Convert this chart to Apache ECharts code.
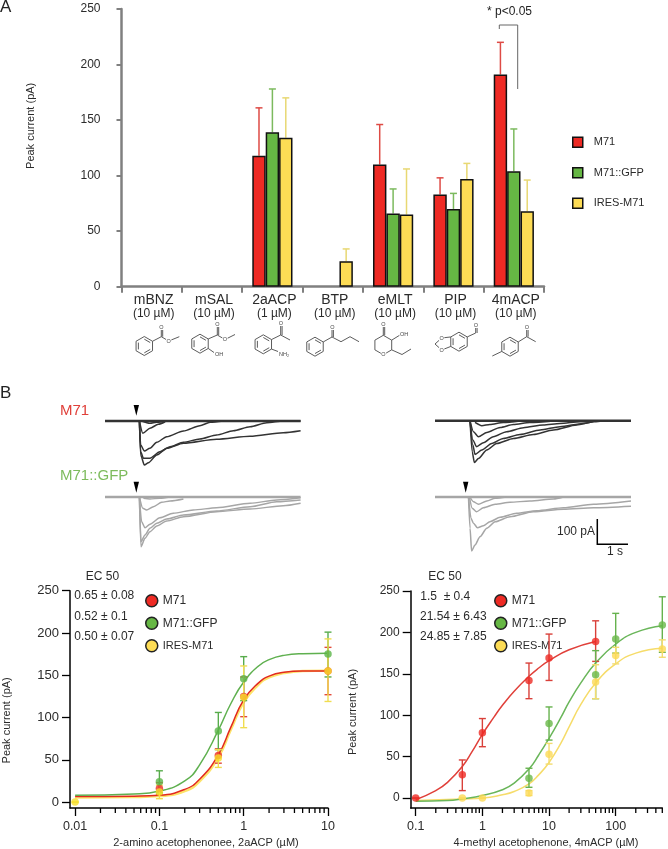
<!DOCTYPE html>
<html><head><meta charset="utf-8">
<style>html,body{margin:0;padding:0;background:#fff}#c{width:668px;height:849px}</style>
<script src="https://cdn.jsdelivr.net/npm/echarts@6/dist/echarts.min.js"></script>
</head><body><div id="c"></div>
<script>
// ---- Panel A data
const odorants = ['mBNZ','mSAL','2aACP','BTP','eMLT','PIP','4mACP'];
const odorantDose = ['(10 µM)','(10 µM)','(1 µM)','(10 µM)','(10 µM)','(10 µM)','(10 µM)'];
const barM71   = [null,null,118,null,110,83,191];
const barGFP   = [null,null,139,null,66,70,104];
const barIRES  = [null,null,134,23,65,97,68];
const topM71   = [null,null,161,null,146,98,220];
const topGFP   = [null,null,178,null,88,84,142];
const topIRES  = [null,null,170,34,106,111,96];

// ---- Panel B dose-response data: [dose, mean, low, high]
const ptsL_M71  = [[0.1,16,9,23],[0.5,55,46,63],[1,125,101,148],[10,155,127,183]];
const ptsL_GFP  = [[0.1,24,11,37],[0.5,84,62,106],[1,146,120,172],[10,175,148,201]];
const ptsL_IRES = [[0.01,0,0,0],[0.1,12,4,20],[0.5,52,41,62],[1,124,88,161],[10,155,119,193]];
const fitL_M71  = [[0.01,6.5],[0.05,7],[0.1,8],[0.2,15],[0.3,27],[0.5,56],[0.7,88],[1,121],[1.5,141],[2,149],[3,153.5],[5,155],[10,155]];
const fitL_GFP  = [[0.01,8],[0.05,9.5],[0.1,13],[0.2,25],[0.3,44],[0.5,85],[0.7,116],[1,142],[1.5,161],[2,168.5],[3,173.5],[5,175.5],[10,176]];
const fitL_IRES = [[0.01,5.5],[0.05,6],[0.1,7],[0.2,13],[0.3,24.5],[0.5,53],[0.7,85],[1,118],[1.5,139],[2,147.5],[3,152.5],[5,155],[10,155.5]];
const ptsR_M71  = [[0.1,0,0,0],[0.5,28,9,46],[1,79,62,96],[5,142,120,163],[10,169,142,198],[50,189,165,214]];
const ptsR_GFP  = [[5,24,13,36],[10,90,70,110],[50,149,120,178],[100,192,175,223],[500,209,176,243]];
const ptsR_IRES = [[0.5,0,0,0],[1,0,0,0],[5,6,3,9],[10,53,41,66],[50,140,120,161],[100,172,162,182],[500,180,170,191]];
const fitR_M71  = [[0.1,-2],[0.2,9],[0.3,19],[0.5,38],[0.7,56],[1,77],[1.5,98],[2,112],[3,129],[5,147],[7,157],[10,166],[20,179],[50,189]];
const fitR_GFP  = [[0.1,-4],[0.3,-3],[0.5,-1],[1,3],[2,10],[3,18],[5,35],[7,52],[10,72],[15,97],[20,116],[30,139],[50,163],[100,186],[200,200],[500,208]];
const fitR_IRES = [[0.1,-3],[0.5,-1],[1,0],[2,4],[3,8],[5,17],[7,28],[10,43],[15,66],[20,86],[30,113],[50,139],[100,162],[200,175],[500,181]];
const yTicksB = [0,50,100,150,200,250];
const doseTicksL = [0.01,0.1,1,10];
const doseMinorL = [0.02,0.03,0.04,0.05,0.06,0.07,0.08,0.09,0.2,0.3,0.4,0.5,0.6,0.7,0.8,0.9,2,3,4,5,6,7,8,9];
const doseTicksR = [0.1,1,10,100];
const doseMinorR = [0.2,0.3,0.4,0.5,0.6,0.7,0.8,0.9,2,3,4,5,6,7,8,9,20,30,40,50,60,70,80,90,200,300,400,500];

// ---- Panel B current traces: [seconds, pA]
const traceTL = [
 [[0,0],[6.31,0]],
 [[1.11,0],[1.15,-136],[1.27,-176],[1.40,-167],[1.67,-136],[1.99,-109],[2.53,-89],[3.60,-73],[4.68,-61],[5.75,-47],[6.31,-39]],
 [[1.11,0],[1.15,-123],[1.24,-149],[1.45,-149],[1.77,-123],[2.10,-103],[2.53,-85],[3.06,-72],[3.60,-56],[4.14,-39],[4.68,-23],[5.22,-7],[5.75,0],[6.31,0]],
 [[1.11,0],[1.15,-96],[1.27,-120],[1.45,-109],[1.67,-85],[1.99,-63],[2.53,-40],[3.06,-19],[3.39,-5],[3.82,0]],
 [[1.11,0],[1.22,-49],[1.45,-29],[1.72,-13],[1.94,-3]],
 [[1.18,0],[1.45,-9],[1.67,-5],[2,0]]
];
const traceTR = [
 [[0,0],[6.32,0]],
 [[1.13,0],[1.20,-124],[1.27,-167],[1.40,-151],[1.67,-117],[1.99,-91],[2.53,-71],[3.17,-55],[3.82,-37],[4.57,-17],[5.11,-4],[5.54,0],[6.32,0]],
 [[1.13,0],[1.22,-97],[1.29,-135],[1.51,-117],[1.83,-91],[2.20,-71],[2.74,-55],[3.39,-37],[4.03,-24],[4.78,-11],[5.22,-1],[6.32,0]],
 [[1.13,0],[1.22,-77],[1.34,-104],[1.56,-88],[1.88,-64],[2.31,-44],[2.85,-28],[3.49,-17],[4.03,-11],[4.68,-4],[5.32,0]],
 [[1.13,0],[1.24,-44],[1.40,-64],[1.67,-47],[2.10,-27],[2.53,-15],[3.06,-7],[3.82,-1]],
 [[1.29,-7],[1.51,-20],[1.77,-15],[2.20,-7],[2.74,-1]]
];
const traceBL = [
 [[0,0],[6.31,0]],
 [[1.11,0],[1.16,-199],[1.29,-165],[1.45,-139],[1.67,-116],[1.99,-96],[2.53,-79],[3.60,-59],[4.68,-48],[5.75,-35],[6.31,-25]],
 [[1.11,0],[1.18,-99],[1.29,-123],[1.45,-109],[1.77,-83],[2.20,-65],[2.85,-52],[3.60,-43],[4.68,-25],[5.54,-12],[6.31,-3]],
 [[1.11,0],[1.22,-45],[1.34,-52],[1.56,-39],[1.83,-21],[2.10,-16],[2.53,-8]],
 [[1.11,0],[1.16,-179],[1.29,-152],[1.45,-125],[1.67,-105],[1.99,-88],[2.53,-72],[3.60,-56],[4.68,-39],[5.54,-19],[6.31,-12]],
 [[1.24,-5],[1.45,-8],[1.77,-5],[2.1,0]]
];
const traceBR = [
 [[0,0],[6.32,0]],
 [[1.08,0],[1.13,-125],[1.18,-216],[1.29,-192],[1.45,-159],[1.67,-125],[1.94,-99],[2.42,-79],[3.17,-59],[4.14,-49],[5.11,-43],[6.32,-37]],
 [[1.08,0],[1.16,-85],[1.24,-105],[1.37,-123],[1.56,-115],[1.77,-99],[2.10,-81],[2.63,-65],[3.28,-55],[4.14,-43],[5.11,-29],[6.32,-16]],
 [[1.11,0],[1.20,-45],[1.34,-59],[1.56,-43],[1.94,-29],[2.42,-21],[3.06,-16],[3.82,-8],[4.14,0]],
 [[1.13,0],[1.24,-19],[1.40,-29],[1.67,-16],[1.94,-5],[2.31,0]]
];

// ---- Styles
const FONT = '"Liberation Sans",Arial,sans-serif';
const RED='#ee2a24', GREEN='#66b744', YEL='#fddc55';
const names=['M71','M71::GFP','IRES-M71'];
const TXT='#2b2b2b';

const grid=[], xAxis=[], yAxis=[], series=[], graphic=[];

// ---- Panel A
grid.push({left:121.5,width:422.5,top:9,height:277.7,outerBoundsMode:'none'});
xAxis.push({type:'category',gridIndex:0,data:odorants,
  axisLine:{show:true,lineStyle:{color:'#808080',width:2.5}},
  axisTick:{show:true,length:6,lineStyle:{color:'#808080',width:2}},
  axisLabel:{margin:6,interval:0,padding:[0,0,0,4],color:TXT,fontFamily:FONT,
    formatter:(v,i)=>'{a|'+v+'}\n{b|'+odorantDose[i]+'}',
    rich:{a:{fontSize:14,lineHeight:14,fontFamily:FONT,color:TXT},b:{fontSize:12,lineHeight:13,fontFamily:FONT,color:TXT}}}});
yAxis.push({type:'value',gridIndex:0,min:0,max:250,interval:50,name:'Peak current (pA)',nameLocation:'center',nameGap:85,
  nameTextStyle:{fontFamily:FONT,fontSize:11,color:TXT,padding:[0,0,0,44]},
  axisLine:{show:true,lineStyle:{color:'#808080',width:2.5}},
  axisTick:{show:true,length:5,lineStyle:{color:'#808080',width:2}},
  splitLine:{show:false},
  axisLabel:{margin:21,fontFamily:FONT,fontSize:12,color:TXT,padding:[3,0,0,0]}});
const barData=[barM71,barGFP,barIRES], topData=[topM71,topGFP,topIRES], cols=[RED,GREEN,YEL], errCols=['#de4b45','#7cba5e','#e8d873'];
const BW=13.4;
barData.forEach((d,k)=>{
  series.push({type:'bar',name:names[k],xAxisIndex:0,yAxisIndex:0,data:d,barGap:'0%',barCategoryGap:'33.4%',z:3,
    itemStyle:{color:cols[k],borderColor:'#111',borderWidth:1.5},silent:true});
});
barData.forEach((d,k)=>{
  series.push({type:'custom',xAxisIndex:0,yAxisIndex:0,clip:false,z:2,silent:true,
    data:d.map((v,i)=>v==null?null:[i,v,topData[k][i]]).filter(Boolean),
    encode:{x:0,y:[1,2]},
    renderItem:(p,api)=>{
      const a=api.coord([api.value(0),api.value(1)]), b=api.coord([api.value(0),api.value(2)]);
      const x=a[0]+(k-1)*BW, s={stroke:errCols[k],lineWidth:1.5};
      return {type:'group',children:[
        {type:'line',shape:{x1:x,y1:a[1],x2:x,y2:b[1]},style:s},
        {type:'line',shape:{x1:x-3.5,y1:b[1],x2:x+3.5,y2:b[1]},style:s}]};
    }});
});

// ---- Dose-response panels
function dosePanel(o){
  const gi=grid.length; grid.push({left:o.left,width:o.width,top:o.top,height:o.height,outerBoundsMode:'none'});
  const xi=xAxis.length;
  xAxis.push({type:'log',logBase:10,gridIndex:gi,min:o.min,max:o.max,position:'bottom',
    axisLine:{show:true,onZero:false,lineStyle:{color:'#000',width:1.5}},
    axisTick:{show:true,length:8,lineStyle:{color:'#000',width:1.3},customValues:o.major},
    axisLabel:{show:true,margin:12,color:TXT,fontFamily:FONT,fontSize:12.5,customValues:o.major,formatter:v=>String(+(+v).toPrecision(3))},
    splitLine:{show:false},minorTick:{show:false}});
  const yi=yAxis.length;
  yAxis.push({type:'value',gridIndex:gi,min:o.ymin,max:250,name:'Peak current (pA)',nameLocation:'center',nameGap:o.nameGap,
    nameTextStyle:{fontFamily:FONT,fontSize:11,color:TXT,padding:[0,o.namePad,0,0]},
    axisLine:{show:true,onZero:false,lineStyle:{color:'#000',width:1.5}},
    axisTick:{show:true,length:8,lineStyle:{color:'#000',width:1.3},customValues:yTicksB},
    axisLabel:{margin:11,fontFamily:FONT,fontSize:o.yFont,color:TXT,customValues:yTicksB},
    splitLine:{show:false}});
  // minor decade ticks on the log axis
  series.push({type:'custom',xAxisIndex:xi,yAxisIndex:yi,clip:false,silent:true,z:6,
    data:o.minor.map(v=>[v,o.ymin,o.ymin]),encode:{x:0,y:[1,2]},
    renderItem:(p,api)=>{const a=api.coord([api.value(0),api.value(1)]);
      return {type:'group',children:[{type:'line',shape:{x1:a[0],y1:a[1],x2:a[0],y2:a[1]+5},style:{stroke:'#000',lineWidth:1.3}}]};}});
  const fits=o.fits, pts=o.pts;
  [2,0,1].forEach((k,ord)=>{
    series.push({type:'line',name:names[k],xAxisIndex:xi,yAxisIndex:yi,data:fits[k],showSymbol:false,smooth:0.5,clip:false,silent:true,z:3+ord*0.01,
      lineStyle:{color:o.lineCols[k],width:o.lineW[k]}});
  });
  [0,1,2].forEach(k=>{
    series.push({type:'custom',xAxisIndex:xi,yAxisIndex:yi,clip:false,silent:true,z:4,
      data:pts[k].map(p=>[p[0],p[2],p[3]]),encode:{x:0,y:[1,2]},
      renderItem:(p,api)=>{
        const a=api.coord([api.value(0),api.value(1)]), b=api.coord([api.value(0),api.value(2)]);
        const s={stroke:o.errCols[k],lineWidth:1.4};
        return {type:'group',children:[
          {type:'line',shape:{x1:a[0],y1:a[1],x2:a[0],y2:b[1]},style:s},
          {type:'line',shape:{x1:a[0]-3.5,y1:a[1],x2:a[0]+3.5,y2:a[1]},style:s},
          {type:'line',shape:{x1:b[0]-3.5,y1:b[1],x2:b[0]+3.5,y2:b[1]},style:s}]};
      }});
  });
  [0,1,2].forEach(k=>{
    series.push({type:'scatter',name:names[k],xAxisIndex:xi,yAxisIndex:yi,data:pts[k].map(p=>[p[0],p[1]]),symbolSize:7.5,clip:false,silent:true,z:5,
      itemStyle:{color:o.ptCols[k]}});
  });
}
dosePanel({left:70,width:258,top:590.7,height:217.3,min:0.0087,max:10,ymin:-7,nameGap:58,namePad:42,yFont:13,
  major:doseTicksL,minor:doseMinorL,fits:[fitL_M71,fitL_GFP,fitL_IRES],pts:[ptsL_M71,ptsL_GFP,ptsL_IRES],lineW:[1.5,1.5,2.4],
  lineCols:['#e22a20','#5fb04f','#fde36a'],errCols:['#e24a3a','#58ac4c','#f0dd50'],ptCols:['#ee2a24','#5bb548','#f8e02a']});
dosePanel({left:410.7,width:251.6,top:591,height:217,min:0.0841,max:500,ymin:-12,nameGap:52.7,namePad:25,yFont:12,
  major:doseTicksR,minor:doseMinorR,fits:[fitR_M71,fitR_GFP,fitR_IRES],pts:[ptsR_M71,ptsR_GFP,ptsR_IRES],lineW:[1.5,1.5,1.5],
  lineCols:['#e0403a','#6ab65a','#f6dc6a'],errCols:['#d9403a','#66b24e','#f3dc70'],ptCols:['#ee2a24','#69b848','#fcd955']});
// free-standing text
function label(text,x,y,size,color,align){
  graphic.push({type:'text',silent:true,style:{text:text,x:x,y:y,fill:color||TXT,font:(size||12)+'px '+FONT,textAlign:align||'left',textVerticalAlign:'middle'}});
}
label('2-amino acetophenonee, 2aACP (µM)',206,843,11,TXT,'center');
label('4-methyl acetophenone, 4mACP (µM)',546,843,11,TXT,'center');
label('EC 50',85.7,577,12);
label('0.65 ± 0.08',74.3,595.5,12);
label('0.52 ± 0.1',74.3,617,12);
label('0.50 ± 0.07',74.3,636.5,12);
label('EC 50',428.3,577,12);
label('1.5  ± 0.4',420.3,596.5,12);
label('21.54 ± 6.43',420,617,12);
label('24.85 ± 7.85',420,637,12);

// ---- Traces
function tracePanel(tr,left,width,baseY,col,tmax){
  const gi=grid.length; grid.push({left:left,width:width,top:baseY-10,height:70,outerBoundsMode:'none'});
  const xi=xAxis.length, yi=yAxis.length;
  xAxis.push({type:'value',gridIndex:gi,min:0,max:tmax,show:false});
  yAxis.push({type:'value',gridIndex:gi,min:-240,max:40,show:false});
  tr.forEach((d,i)=>series.push({type:'line',xAxisIndex:xi,yAxisIndex:yi,data:d,showSymbol:false,smooth:i?0.25:false,smoothMonotone:'x',clip:false,silent:true,z:2,
    lineStyle:{color:col,width:i?1.5:2.6}}));
}
tracePanel(traceTL,105,195.6,421,'#333333',6.31);
tracePanel(traceTR,435,196,420.7,'#333333',6.32);
tracePanel(traceBL,105,195.6,497,'#a6a6a6',6.31);
tracePanel(traceBR,435,196,497,'#a6a6a6',6.32);
[[136.3,405,415.7],[136.3,481.7,492.7],[465.7,481.7,492.7]].forEach(a=>{
  graphic.push({type:'polygon',silent:true,shape:{points:[[a[0]-2.7,a[1]],[a[0]+2.7,a[1]],[a[0],a[2]]]},style:{fill:'#000'}});
});
graphic.push({type:'polyline',silent:true,shape:{points:[[597.3,519],[597.3,544.3],[628,544.3]]},style:{stroke:'#000',lineWidth:1.5,fill:null}});
label('100 pA',595,532,12,TXT,'right');
label('1 s',615,552,12,TXT,'center');
label('A',0,7,17,'#222');
label('B',0,393,17,'#222');
label('M71',60,411,15,'#e0403a');
label('M71::GFP',60,476,15,'#7dbb5c');
label('* p<0.05',487,12,12,'#222');
graphic.push({type:'polyline',silent:true,shape:{points:[[499.3,29],[499.3,25],[517.7,25],[517.7,89]]},style:{stroke:'#666',lineWidth:1,fill:null}});

// ---- Molecules
const MOL='#4a4a4a';
function bond(){ graphic.push({type:'polyline',silent:true,shape:{points:[].slice.call(arguments)},style:{stroke:MOL,lineWidth:0.9,fill:null}}); }
function dbl(a,b){ bond(a,b); const dx=b[0]-a[0],dy=b[1]-a[1],l=Math.hypot(dx,dy),nx=-dy/l*1.4,ny=dx/l*1.4; bond([a[0]+nx,a[1]+ny],[b[0]+nx,b[1]+ny]); }
function ring(cx,cy,r,aromatic){
  const p=[]; for(let i=0;i<6;i++){const t=Math.PI/3*i-Math.PI/2;p.push([cx+r*Math.cos(t),cy+r*Math.sin(t)]);}
  bond(p[0],p[1],p[2],p[3],p[4],p[5],p[0]);
  if(aromatic!==false)[0,2,4].forEach(i=>{const a=p[i],b=p[(i+1)%6],f=0.72,ia=[cx+(a[0]-cx)*f,cy+(a[1]-cy)*f],ib=[cx+(b[0]-cx)*f,cy+(b[1]-cy)*f];bond(ia,ib);});
  return p;
}
function atom(t,x,y,s){ graphic.push({type:'text',silent:true,z:5,style:{text:t,x:x,y:y,fill:'#444',font:(s||5.5)+'px '+FONT,textAlign:'center',textVerticalAlign:'middle',backgroundColor:'#fff',padding:[0,0.5]}}); }
let p;
p=ring(144.3,346,9.5); bond(p[1],[161.3,336.7],[168.7,341],[179.3,336.7]); dbl([161.3,336.7],[161.3,328]); atom('O',168.7,341); atom('O',161.5,327);
p=ring(200,343.7,9.5); bond(p[1],[217.3,335],[225,339.5],[235,334.5]); dbl([217.3,335],[217.3,325]); bond(p[2],[214,352.5]); atom('O',225,339.5); atom('O',217.5,324); atom('OH',219,354);
p=ring(263.3,344.3,9.5); bond(p[1],[280.7,335],[290,340]); dbl([280.7,335],[280.7,324]); bond(p[2],[278,351.5]); atom('O',281,323); atom('NH₂',284,354);
p=ring(315,346.7,9.5); bond(p[1],[332,337],[341,341.7],[350,336.7],[359,341.7]); dbl([332,337],[332,328]); atom('O',332.5,327);
p=ring(383.3,345,9.7,false); dbl([383.3,335.3],[383.3,325]); bond(p[1],[400,335]); bond(p[2],[402,354.5],[411,349]); atom('O',383.5,354.5); atom('O',383.5,324); atom('OH',404,334);
p=ring(459,341.7,9.5); bond(p[1],[475.7,333]); dbl([475.7,333],[475.7,326]); bond(p[5],[441.7,338],[435,344],[441.7,350],p[4]); atom('O',441.7,338); atom('O',441.7,350); atom('O',476,325);
p=ring(510,346.7,9.5); bond(p[1],[526.7,336.7],[535.7,341.7]); dbl([526.7,336.7],[526.7,328]); bond(p[4],[492.3,356]); atom('O',527,327);

// ---- Legends
const legBase={orient:'vertical',selectedMode:false};
const legendCfg=[
 Object.assign({},legBase,{left:567,top:131.5,itemWidth:10,itemHeight:10,itemGap:19,
   textStyle:{fontFamily:FONT,fontSize:11,color:TXT,padding:[0,0,0,6],lineHeight:10},
   data:names.map((n,i)=>({name:n,icon:'rect',itemStyle:{color:cols[i],borderColor:'#111',borderWidth:1.5}}))}),
 Object.assign({},legBase,{left:140,top:589,itemWidth:12,itemHeight:12,itemGap:9,
   textStyle:{fontFamily:FONT,fontSize:12,color:TXT,lineHeight:12},
   data:names.map((n,i)=>({name:n,icon:'circle',itemStyle:{color:cols[i],borderColor:'#222',borderWidth:1.5},textStyle:i==2?{fontSize:11}:{}}))}),
 Object.assign({},legBase,{left:489,top:589,itemWidth:12,itemHeight:12,itemGap:9,
   textStyle:{fontFamily:FONT,fontSize:12,color:TXT,lineHeight:12},
   data:names.map((n,i)=>({name:n,icon:'circle',itemStyle:{color:cols[i],borderColor:'#222',borderWidth:1.5},textStyle:i==2?{fontSize:11}:{}}))})
];

const chart=echarts.init(document.getElementById('c'),null,{renderer:'canvas'});
chart.setOption({animation:false,backgroundColor:'#fff',textStyle:{fontFamily:FONT},tooltip:{show:false},grid,xAxis,yAxis,series,legend:legendCfg,graphic:{elements:graphic}});
</script></body></html>
